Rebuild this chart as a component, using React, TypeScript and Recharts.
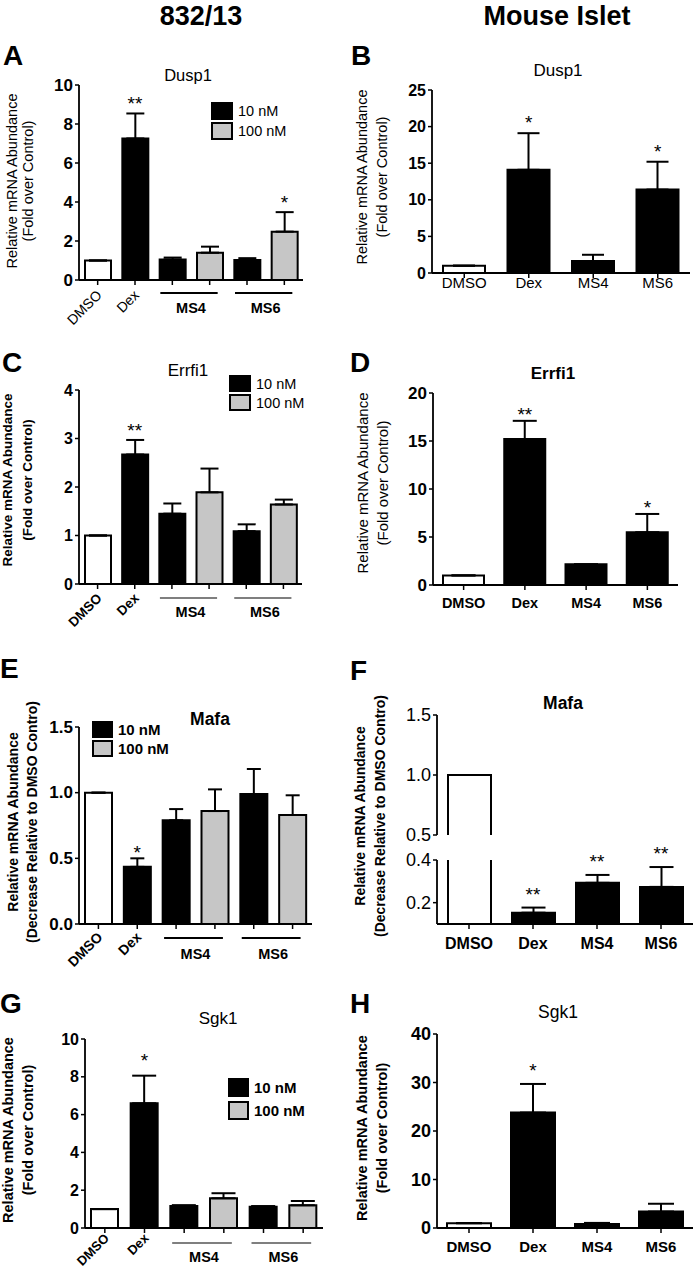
import React from "react";
import { ComposedChart, Bar, Line, Cell, XAxis, YAxis, ErrorBar, LabelList } from "recharts";

const FONT = "'Liberation Sans', Arial, Helvetica, sans-serif";
const INK = "#000";
const DOSE_FILL: Record<string, string> = { none: "#fff", "10 nM": "#000", "100 nM": "#c6c6c6" };

// categories
const cellCategories = ["DMSO", "Dex", "MS4 10 nM", "MS4 100 nM", "MS6 10 nM", "MS6 100 nM"];
const cellGroups = ["DMSO", "Dex", "MS4", "MS4", "MS6", "MS6"];
const cellDoses = ["none", "10 nM", "10 nM", "100 nM", "10 nM", "100 nM"];
const isletCategories = ["DMSO", "Dex", "MS4", "MS6"];
const isletDoses = ["none", "10 nM", "10 nM", "10 nM"];
const legendDoses = ["10 nM", "100 nM"];

// A - Dusp1, 832/13
const dusp1CellMean = [1.0, 7.26, 1.05, 1.4, 1.02, 2.48];
const dusp1CellSem = [0, 1.28, 0.1, 0.31, 0.1, 1.0];
const dusp1CellSig = ["", "**", "", "", "", "*"];
// B - Dusp1, islet
const dusp1IsletMean = [1.0, 14.1, 1.64, 11.4];
const dusp1IsletSem = [0, 5.0, 0.85, 3.8];
const dusp1IsletSig = ["", "*", "", "*"];
// C - Errfi1, 832/13
const errfi1CellMean = [1.0, 2.67, 1.45, 1.89, 1.09, 1.64];
const errfi1CellSem = [0, 0.3, 0.21, 0.49, 0.14, 0.1];
const errfi1CellSig = ["", "**", "", "", "", ""];
// D - Errfi1, islet
const errfi1IsletMean = [1.0, 15.2, 2.15, 5.5];
const errfi1IsletSem = [0, 1.9, 0, 1.9];
const errfi1IsletSig = ["", "**", "", "*"];
// E - Mafa, 832/13
const mafaCellMean = [1.0, 0.435, 0.79, 0.86, 0.99, 0.83];
const mafaCellSem = [0, 0.065, 0.085, 0.165, 0.19, 0.15];
const mafaCellSig = ["", "*", "", "", "", ""];
// F - Mafa, islet (broken axis)
const mafaIsletMean = [1.0, 0.153, 0.293, 0.274];
const mafaIsletSem = [0, 0.024, 0.037, 0.093];
const mafaIsletSig = ["", "**", "**", "**"];
// G - Sgk1, 832/13
const sgk1CellMean = [1.0, 6.6, 1.16, 1.57, 1.13, 1.2];
const sgk1CellSem = [0, 1.46, 0.05, 0.27, 0.03, 0.23];
const sgk1CellSig = ["", "*", "", "", "", ""];
// H - Sgk1, islet
const sgk1IsletMean = [1.0, 23.8, 0.8, 3.4];
const sgk1IsletSem = [0, 5.9, 0.25, 1.6];
const sgk1IsletSig = ["", "*", "", ""];

const toRows = (cats: string[], mean: (number | null)[], sem: number[], sig: string[]) =>
  cats.map((name, i) => ({
    name,
    mean: mean[i],
    err: [0, sem[i]],
    top: mean[i] == null ? null : (mean[i] as number) + sem[i],
    sig: sig[i],
  }));

// F upper segment only shows what reaches above the break
const mafaIsletUpper = mafaIsletMean.map((v) => (v >= 0.5 ? v : null));

const YW = 60;
const MT = 40;
const MR = 10;
const XH = 60;

type Txt = { size: number; bold?: boolean };
type Layout = {
  x0: number; y0: number; x1: number; y1: number;
  domain: [number, number]; ticks: number[]; decimals?: number;
  tickFont: Txt; barSize: number; cap: number; starOffset: number;
  mode: "group" | "flat"; font: Txt; groupFont?: Txt;
  dy: number; rotDy?: number; lineDy?: number; lineW?: number;
  xh?: number; hideX?: boolean; noErr?: boolean; noStars?: boolean;
};

const txtStyle = (t: Txt) => ({ fontFamily: FONT, fontSize: t.size, fontWeight: t.bold ? 700 : 400, fill: INK });

function BarShape(p: any) {
  const { x, y, width, height, fill, plotTop } = p;
  if (height == null || !(height > 0) || isNaN(y)) return <g />;
  const bottom = y + height;
  const top = Math.max(y, plotTop);
  const clipped = top > y;
  const d = clipped
    ? `M${x},${bottom}L${x},${top}M${x + width},${top}L${x + width},${bottom}`
    : `M${x},${bottom}L${x},${top}L${x + width},${top}L${x + width},${bottom}`;
  return (
    <g>
      <rect x={x} y={top} width={width} height={bottom - top} fill={fill} />
      <path d={d} stroke={INK} strokeWidth={2} fill="none" />
    </g>
  );
}

function CategoryTick(p: any) {
  const { x, y, index, groups, band, lay } = p;
  const L = lay as Layout;
  const ay = y - 5;
  const g = groups[index];
  if (L.mode === "flat") {
    return <text x={x} y={ay + L.dy} textAnchor="middle" style={txtStyle(L.font)}>{g}</text>;
  }
  const members = groups.filter((v: string) => v === g).length;
  if (members === 1) {
    const ax = x + 5;
    const by = ay + (L.rotDy || 14);
    return (
      <text x={ax} y={by} textAnchor="end" transform={`rotate(-45 ${ax} ${by})`} style={txtStyle(L.font)}>{g}</text>
    );
  }
  if (groups.indexOf(g) !== index) return <g />;
  const end = x + band * (members - 1);
  const ly = ay + (L.lineDy || 13);
  return (
    <g>
      <line x1={x - 12} x2={end + 8} y1={ly} y2={ly} stroke={INK} strokeWidth={L.lineW || 1.5} />
      <text x={(x + end) / 2} y={ay + L.dy} textAnchor="middle" style={txtStyle(L.groupFont || L.font)}>{g}</text>
    </g>
  );
}

function ValueTick(p: any) {
  const { x, y, payload, font, fmt } = p;
  return (
    <text x={x} y={y} textAnchor="end" dominantBaseline="central" style={txtStyle(font)}>
      {fmt(payload.value)}
    </text>
  );
}

function BarPanel({ rows, doses, groups, lay }: { rows: any[]; doses: string[]; groups: string[]; lay: Layout }) {
  const plotW = lay.x1 - lay.x0;
  const plotH = lay.y1 - lay.y0;
  const xh = lay.hideX ? 0 : lay.xh ?? XH;
  const mb = lay.hideX ? 14 : 0;
  const band = plotW / rows.length;
  const fmt = (v: number) => (lay.decimals ? v.toFixed(lay.decimals) : String(v));
  return (
    <div style={{ position: "absolute", left: lay.x0 - YW, top: lay.y0 - MT }}>
      <ComposedChart
        width={plotW + YW + MR}
        height={plotH + MT + xh + mb}
        data={rows}
        margin={{ top: MT, right: MR, bottom: mb, left: 0 }}
      >
        <XAxis
          dataKey="name"
          type="category"
          interval={0}
          hide={lay.hideX}
          height={xh}
          tickSize={5}
          tickMargin={0}
          tick={(tp: any) => <CategoryTick {...tp} groups={groups} band={band} lay={lay} />}
          tickLine={{ stroke: INK, strokeWidth: 1.5 }}
          axisLine={{ stroke: INK, strokeWidth: 1.8 }}
        />
        <YAxis
          type="number"
          domain={lay.domain}
          ticks={lay.ticks}
          interval={0}
          allowDataOverflow
          width={YW}
          tickSize={4}
          tickMargin={2}
          tick={(tp: any) => <ValueTick {...tp} font={lay.tickFont} fmt={fmt} />}
          tickLine={{ stroke: INK, strokeWidth: 1.5 }}
          axisLine={{ stroke: INK, strokeWidth: 1.8 }}
        />
        <Bar
          dataKey="mean"
          barSize={lay.barSize}
          isAnimationActive={false}
          shape={(bp: any) => <BarShape {...bp} plotTop={MT} />}
        >
          {rows.map((_, i) => (
            <Cell key={i} fill={DOSE_FILL[doses[i]]} />
          ))}
          {!lay.noErr && <ErrorBar dataKey="err" width={lay.cap} stroke={INK} strokeWidth={2} direction="y" />}
        </Bar>
        {!lay.noStars && (
          <Line dataKey="top" stroke="none" dot={false} activeDot={false} isAnimationActive={false} legendType="none">
            <LabelList dataKey="sig" position="top" offset={lay.starOffset} fill={INK} fontSize={19} fontFamily={FONT} />
          </Line>
        )}
      </ComposedChart>
    </div>
  );
}

const layA: Layout = {
  x0: 79, y0: 85, x1: 303, y1: 280, domain: [0, 10], ticks: [0, 2, 4, 6, 8, 10],
  tickFont: { size: 17, bold: true }, barSize: 26, cap: 9, starOffset: 3,
  mode: "group", font: { size: 14 }, groupFont: { size: 14.5, bold: true }, rotDy: 16, lineDy: 13, lineW: 2, dy: 33,
};
const layB: Layout = {
  x0: 432, y0: 90, x1: 690, y1: 273, domain: [0, 25], ticks: [0, 5, 10, 15, 20, 25],
  tickFont: { size: 16, bold: true }, barSize: 42, cap: 11, starOffset: 4,
  mode: "flat", font: { size: 15 }, dy: 15,
};
const layC: Layout = {
  x0: 79, y0: 390, x1: 302, y1: 584, domain: [0, 4], ticks: [0, 1, 2, 3, 4],
  tickFont: { size: 16, bold: true }, barSize: 26, cap: 9, starOffset: 3,
  mode: "group", font: { size: 13.5, bold: true }, groupFont: { size: 14.5, bold: true }, rotDy: 15, lineDy: 14, lineW: 1.2, dy: 33,
};
const layD: Layout = {
  x0: 433, y0: 393, x1: 678, y1: 585, domain: [0, 20], ticks: [0, 5, 10, 15, 20],
  tickFont: { size: 17, bold: true }, barSize: 41, cap: 12, starOffset: 0,
  mode: "flat", font: { size: 14.5, bold: true }, dy: 23,
};
const layE: Layout = {
  x0: 79, y0: 727, x1: 312, y1: 924, domain: [0, 1.5], ticks: [0, 0.5, 1, 1.5], decimals: 1,
  tickFont: { size: 17, bold: true }, barSize: 27, cap: 7, starOffset: -1,
  mode: "group", font: { size: 14, bold: true }, groupFont: { size: 14.5, bold: true }, rotDy: 14, lineDy: 14, lineW: 2.2, dy: 35,
};
const layFUpper: Layout = {
  x0: 437, y0: 715, x1: 693, y1: 835, domain: [0.5, 1.5], ticks: [0.5, 1, 1.5], decimals: 1,
  tickFont: { size: 18 }, barSize: 43, cap: 12, starOffset: 8,
  mode: "flat", font: { size: 16, bold: true }, dy: 25, hideX: true, noErr: true, noStars: true,
};
const layFLower: Layout = {
  x0: 437, y0: 860, x1: 693, y1: 924, domain: [0.1, 0.4], ticks: [0.2, 0.4], decimals: 1,
  tickFont: { size: 18 }, barSize: 43, cap: 12, starOffset: 7,
  mode: "flat", font: { size: 16, bold: true }, dy: 25,
};
const layG: Layout = {
  x0: 85, y0: 1039, x1: 323, y1: 1228, domain: [0, 10], ticks: [0, 2, 4, 6, 8, 10],
  tickFont: { size: 16, bold: true }, barSize: 27, cap: 12, starOffset: 9,
  mode: "group", font: { size: 13, bold: true }, groupFont: { size: 14.5, bold: true }, rotDy: 11, lineDy: 15, lineW: 1.2, dy: 34,
  xh: 42,
};
const layH: Layout = {
  x0: 437, y0: 1034, x1: 693, y1: 1228, domain: [0, 40], ticks: [0, 10, 20, 30, 40],
  tickFont: { size: 18, bold: true }, barSize: 44, cap: 13, starOffset: 7,
  mode: "flat", font: { size: 15, bold: true }, dy: 24, xh: 42,
};

// overlay text: headers, panel letters, titles, axis titles, legends
const headers: [string, number, number][] = [["832/13", 201, 25], ["Mouse Islet", 557, 25]];
const letters: [string, number, number][] = [
  ["A", 3, 65], ["B", 351, 65], ["C", 2, 372], ["D", 350, 372],
  ["E", 0, 678], ["F", 350, 680], ["G", 0, 1013], ["H", 350, 1013],
];
const titles: [string, number, number, number, boolean][] = [
  ["Dusp1", 188, 75, 16.5, false], ["Dusp1", 558, 70, 17, false],
  ["Errfi1", 188, 370, 17, false], ["Errfi1", 553, 373, 17, true],
  ["Mafa", 210, 719, 17.5, true], ["Mafa", 563, 703, 17.5, true],
  ["Sgk1", 218, 1018, 17, false], ["Sgk1", 558, 1012, 17.5, false],
];
const FOLD = ["Relative mRNA Abundance", "(Fold over Control)"];
const DECR = ["Relative mRNA Abundance", "(Decrease Relative to DMSO Contro)"];
const yTitles: [string[], number, number, number, number, boolean][] = [
  [FOLD, 12, 28, 181, 14.5, false], [FOLD, 362, 382, 177, 14.5, false],
  [FOLD, 7, 27, 480, 13.5, true], [FOLD, 362, 382, 483, 15, false],
  [DECR, 13, 32, 822, 14, true], [DECR, 360, 380, 816, 14, true],
  [FOLD, 8, 28, 1130, 14.5, true], [FOLD, 362, 382, 1128, 14.5, true],
];
const legends: { x: number; y: number; gap: number; w: number; h: number; size: number; bold: boolean }[] = [
  { x: 212, y: 103, gap: 20, w: 20, h: 16, size: 14.5, bold: false },
  { x: 230, y: 376, gap: 19, w: 20, h: 15, size: 14.5, bold: false },
  { x: 93, y: 722, gap: 19, w: 19, h: 15, size: 15, bold: true },
  { x: 229, y: 1079, gap: 23, w: 19, h: 17, size: 15, bold: true },
];

function Overlay() {
  return (
    <svg width={700} height={1270} style={{ position: "absolute", left: 0, top: 0, pointerEvents: "none" }} fontFamily={FONT} fill={INK}>
      {headers.map(([t, x, y]) => (
        <text key={t} x={x} y={y} textAnchor="middle" fontSize={27} fontWeight={700}>{t}</text>
      ))}
      {letters.map(([t, x, y]) => (
        <text key={t} x={x} y={y} fontSize={28} fontWeight={700}>{t}</text>
      ))}
      {titles.map(([t, x, y, s, b], i) => (
        <text key={i} x={x} y={y} textAnchor="middle" dominantBaseline="central" fontSize={s} fontWeight={b ? 700 : 400}>{t}</text>
      ))}
      {yTitles.map(([lines, c1, c2, cy, s, b], i) => (
        <g key={i} fontSize={s} fontWeight={b ? 700 : 400}>
          {lines.map((t, j) => {
            const cx = j ? c2 : c1;
            return (
              <text key={j} x={cx} y={cy} transform={`rotate(-90 ${cx} ${cy})`} textAnchor="middle" dominantBaseline="central">{t}</text>
            );
          })}
        </g>
      ))}
      {legends.map((l, i) => (
        <g key={i}>
          {legendDoses.map((d, j) => (
            <g key={d}>
              <rect x={l.x} y={l.y + j * l.gap} width={l.w} height={l.h} fill={DOSE_FILL[d]} stroke={INK} strokeWidth={2} />
              <text x={l.x + l.w + 6} y={l.y + j * l.gap + l.h / 2} dominantBaseline="central" fontSize={l.size} fontWeight={l.bold ? 700 : 400}>{d}</text>
            </g>
          ))}
        </g>
      ))}
    </svg>
  );
}

export default function App() {
  return (
    <div style={{ position: "absolute", left: 0, top: 0, width: 700, height: 1270, background: "#fff", fontFamily: FONT, overflow: "hidden" }}>
      <BarPanel rows={toRows(cellCategories, dusp1CellMean, dusp1CellSem, dusp1CellSig)} doses={cellDoses} groups={cellGroups} lay={layA} />
      <BarPanel rows={toRows(isletCategories, dusp1IsletMean, dusp1IsletSem, dusp1IsletSig)} doses={isletDoses} groups={isletCategories} lay={layB} />
      <BarPanel rows={toRows(cellCategories, errfi1CellMean, errfi1CellSem, errfi1CellSig)} doses={cellDoses} groups={cellGroups} lay={layC} />
      <BarPanel rows={toRows(isletCategories, errfi1IsletMean, errfi1IsletSem, errfi1IsletSig)} doses={isletDoses} groups={isletCategories} lay={layD} />
      <BarPanel rows={toRows(cellCategories, mafaCellMean, mafaCellSem, mafaCellSig)} doses={cellDoses} groups={cellGroups} lay={layE} />
      <BarPanel rows={toRows(isletCategories, mafaIsletUpper, mafaIsletSem, mafaIsletSig)} doses={isletDoses} groups={isletCategories} lay={layFUpper} />
      <BarPanel rows={toRows(isletCategories, mafaIsletMean, mafaIsletSem, mafaIsletSig)} doses={isletDoses} groups={isletCategories} lay={layFLower} />
      <BarPanel rows={toRows(cellCategories, sgk1CellMean, sgk1CellSem, sgk1CellSig)} doses={cellDoses} groups={cellGroups} lay={layG} />
      <BarPanel rows={toRows(isletCategories, sgk1IsletMean, sgk1IsletSem, sgk1IsletSig)} doses={isletDoses} groups={isletCategories} lay={layH} />
      <Overlay />
    </div>
  );
}
